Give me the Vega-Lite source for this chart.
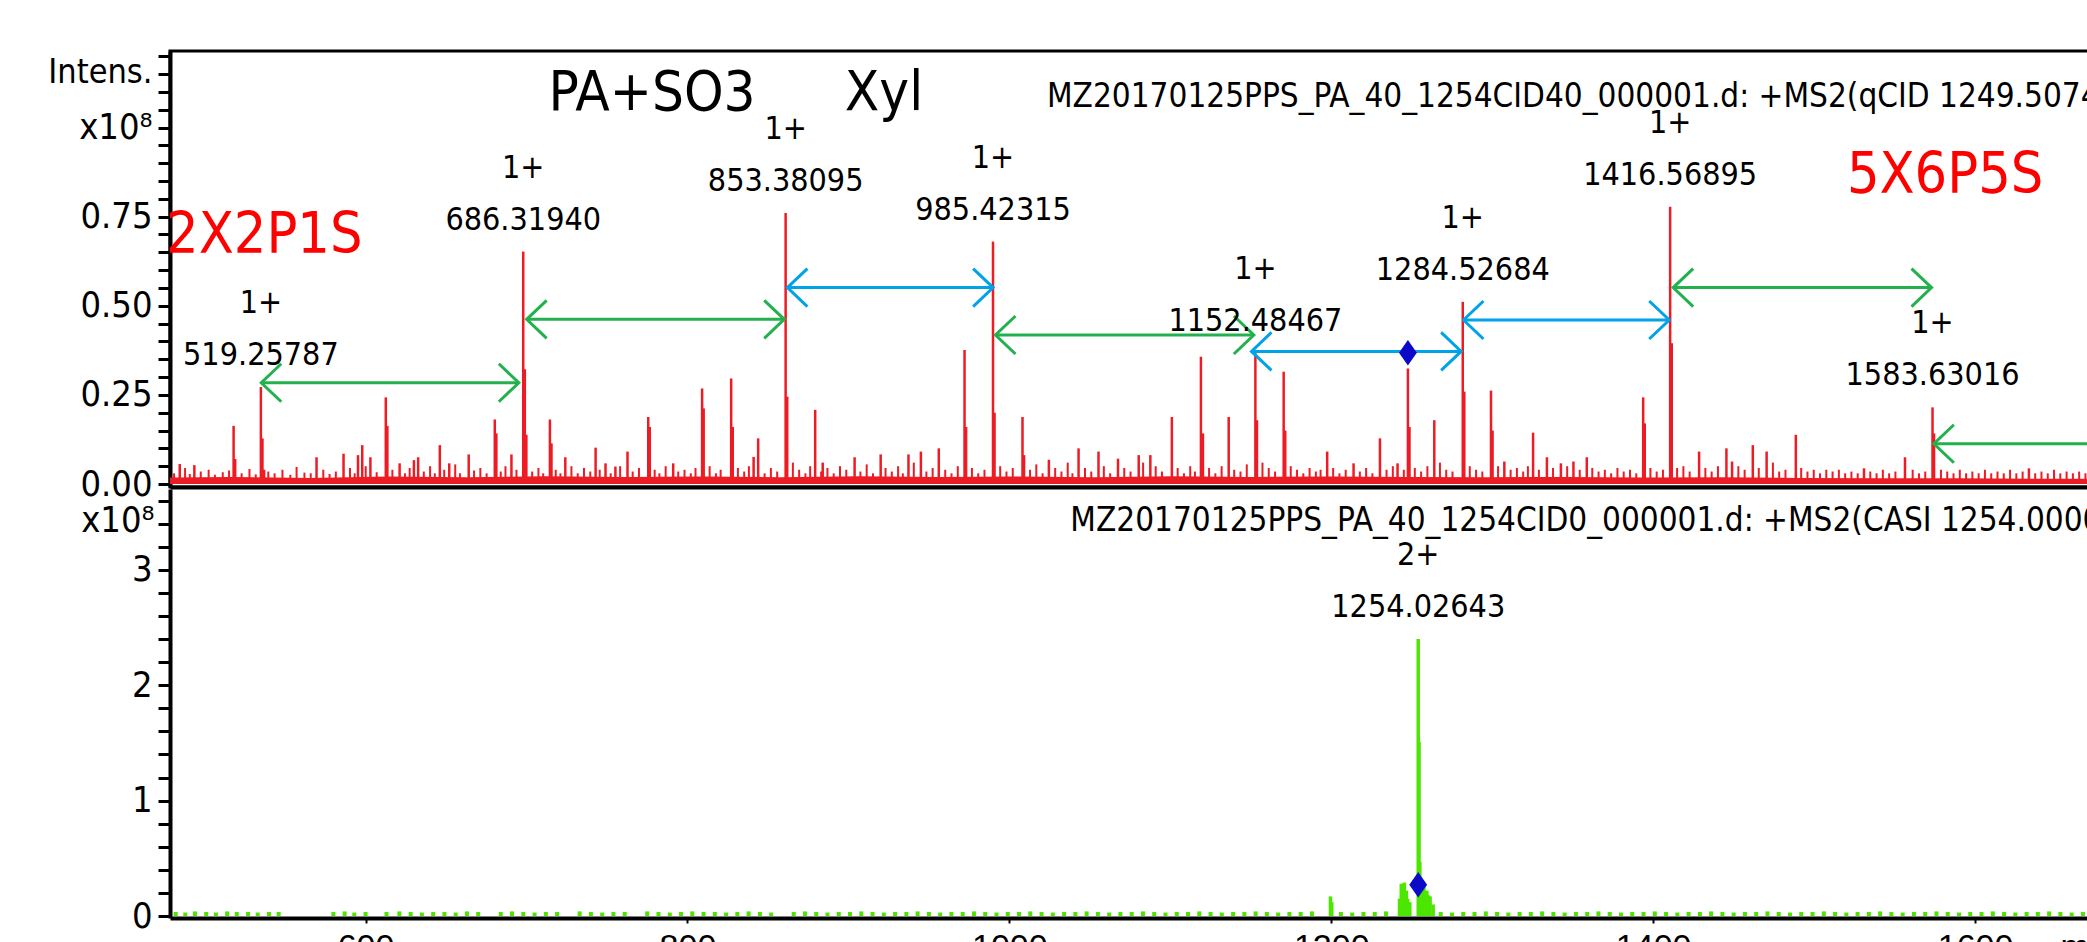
{
  "$schema": "https://vega.github.io/schema/vega-lite/v6.json",
  "autosize": {"type": "none"},
  "padding": {"left": 170, "top": 51, "right": 1917, "bottom": 891},
  "background": "white",
  "bounds": "flush",
  "spacing": 2,
  "resolve": {"scale": {"x": "independent"}},
  "config": {
    "view": {"stroke": null},
    "axis": {"grid": false, "domainColor": "#000", "tickColor": "#000", "labelColor": "#000", "titleColor": "#000",
      "labelFont": "DejaVu Sans Condensed, DejaVu Sans, sans-serif",
      "titleFont": "DejaVu Sans Condensed, DejaVu Sans, sans-serif",
      "titleFontWeight": "normal", "labelOverlap": false, "labelFlush": false, "labelBound": false},
    "text": {"font": "DejaVu Sans Condensed, DejaVu Sans, sans-serif"}
  },
  "datasets": {
    "up": [
      {"mz": 467.6, "i": 0.056}, {"mz": 476.9, "i": 0.053}, {"mz": 501.9, "i": 0.163}, {"mz": 502.9, "i": 0.07},
      {"mz": 519.26, "i": 0.272, "z": "1+", "lab": "519.25787"}, {"mz": 520.26, "i": 0.128}, {"mz": 521.3, "i": 0.04},
      {"mz": 554.7, "i": 0.075}, {"mz": 571.9, "i": 0.085}, {"mz": 581.1, "i": 0.081}, {"mz": 583.8, "i": 0.109},
      {"mz": 589.0, "i": 0.075}, {"mz": 598.8, "i": 0.243}, {"mz": 599.8, "i": 0.163}, {"mz": 607.6, "i": 0.058},
      {"mz": 616.7, "i": 0.067}, {"mz": 619.4, "i": 0.075}, {"mz": 633.2, "i": 0.109}, {"mz": 639.2, "i": 0.058},
      {"mz": 651.6, "i": 0.083}, {"mz": 668.2, "i": 0.181}, {"mz": 669.2, "i": 0.142}, {"mz": 678.8, "i": 0.083},
      {"mz": 686.32, "i": 0.652, "z": "1+", "lab": "686.31940"}, {"mz": 687.32, "i": 0.322}, {"mz": 688.3, "i": 0.138},
      {"mz": 703.3, "i": 0.181}, {"mz": 704.3, "i": 0.114}, {"mz": 713.1, "i": 0.075}, {"mz": 732.4, "i": 0.102},
      {"mz": 738.7, "i": 0.058}, {"mz": 745.0, "i": 0.049}, {"mz": 752.7, "i": 0.091}, {"mz": 765.9, "i": 0.188},
      {"mz": 766.9, "i": 0.16}, {"mz": 781.8, "i": 0.058}, {"mz": 800.2, "i": 0.268}, {"mz": 801.2, "i": 0.212},
      {"mz": 818.7, "i": 0.296}, {"mz": 819.7, "i": 0.16}, {"mz": 833.0, "i": 0.076}, {"mz": 835.9, "i": 0.128},
      {"mz": 853.38, "i": 0.76, "z": "1+", "lab": "853.38095"}, {"mz": 854.4, "i": 0.245}, {"mz": 872.2, "i": 0.208},
      {"mz": 877.0, "i": 0.06}, {"mz": 897.3, "i": 0.075}, {"mz": 913.9, "i": 0.083}, {"mz": 931.6, "i": 0.083},
      {"mz": 939.5, "i": 0.091}, {"mz": 950.9, "i": 0.1}, {"mz": 967.3, "i": 0.376}, {"mz": 968.3, "i": 0.16},
      {"mz": 985.42, "i": 0.68, "z": "1+", "lab": "985.42315"}, {"mz": 986.4, "i": 0.2}, {"mz": 1004.2, "i": 0.188},
      {"mz": 1005.2, "i": 0.081}, {"mz": 1021.0, "i": 0.068}, {"mz": 1039.9, "i": 0.1}, {"mz": 1052.6, "i": 0.091},
      {"mz": 1065.0, "i": 0.071}, {"mz": 1078.2, "i": 0.081}, {"mz": 1085.6, "i": 0.081}, {"mz": 1099.3, "i": 0.188},
      {"mz": 1117.8, "i": 0.357}, {"mz": 1119.1, "i": 0.142}, {"mz": 1135.5, "i": 0.188},
      {"mz": 1152.48, "i": 0.367, "z": "1+", "lab": "1152.48467"}, {"mz": 1153.5, "i": 0.179}, {"mz": 1170.5, "i": 0.315},
      {"mz": 1171.5, "i": 0.15}, {"mz": 1198.2, "i": 0.091}, {"mz": 1215.0, "i": 0.058}, {"mz": 1231.8, "i": 0.128},
      {"mz": 1243.0, "i": 0.058}, {"mz": 1249.6, "i": 0.324}, {"mz": 1250.6, "i": 0.16}, {"mz": 1266.4, "i": 0.179},
      {"mz": 1284.53, "i": 0.511, "z": "1+", "lab": "1284.52684"}, {"mz": 1285.5, "i": 0.259}, {"mz": 1302.5, "i": 0.262},
      {"mz": 1303.5, "i": 0.15}, {"mz": 1311.0, "i": 0.063}, {"mz": 1329.3, "i": 0.144}, {"mz": 1338.1, "i": 0.075},
      {"mz": 1347.0, "i": 0.058}, {"mz": 1355.0, "i": 0.063}, {"mz": 1363.5, "i": 0.075}, {"mz": 1399.4, "i": 0.243},
      {"mz": 1400.4, "i": 0.17}, {"mz": 1416.57, "i": 0.778, "z": "1+", "lab": "1416.56895"}, {"mz": 1417.6, "i": 0.395},
      {"mz": 1435.0, "i": 0.091}, {"mz": 1452.4, "i": 0.1}, {"mz": 1456.0, "i": 0.063}, {"mz": 1469.2, "i": 0.109},
      {"mz": 1478.0, "i": 0.091}, {"mz": 1496.6, "i": 0.138}, {"mz": 1540.0, "i": 0.044}, {"mz": 1566.1, "i": 0.075},
      {"mz": 1583.63, "i": 0.215, "z": "1+", "lab": "1583.63016"}, {"mz": 1584.6, "i": 0.142}, {"mz": 1645.0, "i": 0.044}
    ],
    "upNoise": [
      {"mz": 464, "i": 0.03}, {"mz": 471, "i": 0.045}, {"mz": 474, "i": 0.028}, {"mz": 481, "i": 0.035}, {"mz": 486, "i": 0.04},
      {"mz": 490, "i": 0.026}, {"mz": 495, "i": 0.033}, {"mz": 499, "i": 0.038}, {"mz": 507, "i": 0.03}, {"mz": 512, "i": 0.042},
      {"mz": 516, "i": 0.027}, {"mz": 524, "i": 0.035}, {"mz": 528, "i": 0.03}, {"mz": 533, "i": 0.04}, {"mz": 538, "i": 0.026},
      {"mz": 542, "i": 0.048}, {"mz": 547, "i": 0.032}, {"mz": 551, "i": 0.03}, {"mz": 559, "i": 0.04}, {"mz": 563, "i": 0.028},
      {"mz": 567, "i": 0.035}, {"mz": 576, "i": 0.045}, {"mz": 579, "i": 0.03}, {"mz": 586, "i": 0.05}, {"mz": 593, "i": 0.033},
      {"mz": 603, "i": 0.04}, {"mz": 611, "i": 0.03}, {"mz": 614, "i": 0.045}, {"mz": 623, "i": 0.035}, {"mz": 627, "i": 0.05},
      {"mz": 630, "i": 0.03}, {"mz": 636, "i": 0.04}, {"mz": 643, "i": 0.055}, {"mz": 646, "i": 0.03}, {"mz": 655, "i": 0.038},
      {"mz": 659, "i": 0.045}, {"mz": 663, "i": 0.03}, {"mz": 672, "i": 0.035}, {"mz": 675, "i": 0.05}, {"mz": 682, "i": 0.04},
      {"mz": 692, "i": 0.035}, {"mz": 696, "i": 0.045}, {"mz": 699, "i": 0.03}, {"mz": 707, "i": 0.04}, {"mz": 710, "i": 0.03},
      {"mz": 717, "i": 0.05}, {"mz": 721, "i": 0.03}, {"mz": 725, "i": 0.045}, {"mz": 729, "i": 0.035}, {"mz": 735, "i": 0.04},
      {"mz": 742, "i": 0.03}, {"mz": 748, "i": 0.05}, {"mz": 756, "i": 0.035}, {"mz": 760, "i": 0.045}, {"mz": 770, "i": 0.04},
      {"mz": 773, "i": 0.03}, {"mz": 777, "i": 0.05}, {"mz": 785, "i": 0.035}, {"mz": 789, "i": 0.04}, {"mz": 793, "i": 0.03},
      {"mz": 796, "i": 0.045}, {"mz": 805, "i": 0.05}, {"mz": 809, "i": 0.03}, {"mz": 812, "i": 0.04}, {"mz": 823, "i": 0.045},
      {"mz": 827, "i": 0.035}, {"mz": 830, "i": 0.05}, {"mz": 840, "i": 0.03}, {"mz": 844, "i": 0.045}, {"mz": 848, "i": 0.035},
      {"mz": 858, "i": 0.06}, {"mz": 862, "i": 0.04}, {"mz": 866, "i": 0.03}, {"mz": 869, "i": 0.05}, {"mz": 876, "i": 0.035},
      {"mz": 880, "i": 0.045}, {"mz": 884, "i": 0.03}, {"mz": 888, "i": 0.05}, {"mz": 892, "i": 0.04}, {"mz": 901, "i": 0.035},
      {"mz": 905, "i": 0.055}, {"mz": 909, "i": 0.03}, {"mz": 917, "i": 0.045}, {"mz": 921, "i": 0.035}, {"mz": 925, "i": 0.05},
      {"mz": 928, "i": 0.03}, {"mz": 935, "i": 0.06}, {"mz": 943, "i": 0.035}, {"mz": 947, "i": 0.045}, {"mz": 955, "i": 0.04},
      {"mz": 959, "i": 0.03}, {"mz": 963, "i": 0.05}, {"mz": 972, "i": 0.045}, {"mz": 976, "i": 0.03}, {"mz": 980, "i": 0.04},
      {"mz": 990, "i": 0.05}, {"mz": 994, "i": 0.035}, {"mz": 998, "i": 0.045}, {"mz": 1009, "i": 0.04}, {"mz": 1013, "i": 0.055},
      {"mz": 1017, "i": 0.03}, {"mz": 1025, "i": 0.045}, {"mz": 1029, "i": 0.035}, {"mz": 1033, "i": 0.06}, {"mz": 1036, "i": 0.03},
      {"mz": 1044, "i": 0.045}, {"mz": 1048, "i": 0.035}, {"mz": 1056, "i": 0.05}, {"mz": 1060, "i": 0.03}, {"mz": 1069, "i": 0.045},
      {"mz": 1073, "i": 0.035}, {"mz": 1081, "i": 0.06}, {"mz": 1089, "i": 0.05}, {"mz": 1093, "i": 0.035}, {"mz": 1103, "i": 0.045},
      {"mz": 1107, "i": 0.03}, {"mz": 1111, "i": 0.05}, {"mz": 1114, "i": 0.035}, {"mz": 1123, "i": 0.045}, {"mz": 1127, "i": 0.03},
      {"mz": 1131, "i": 0.05}, {"mz": 1139, "i": 0.04}, {"mz": 1143, "i": 0.035}, {"mz": 1147, "i": 0.055}, {"mz": 1157, "i": 0.06},
      {"mz": 1161, "i": 0.045}, {"mz": 1165, "i": 0.035}, {"mz": 1175, "i": 0.05}, {"mz": 1179, "i": 0.04}, {"mz": 1183, "i": 0.03},
      {"mz": 1187, "i": 0.045}, {"mz": 1191, "i": 0.035}, {"mz": 1194, "i": 0.04}, {"mz": 1202, "i": 0.045}, {"mz": 1206, "i": 0.03},
      {"mz": 1210, "i": 0.04}, {"mz": 1219, "i": 0.035}, {"mz": 1223, "i": 0.045}, {"mz": 1227, "i": 0.03}, {"mz": 1236, "i": 0.04},
      {"mz": 1240, "i": 0.05}, {"mz": 1247, "i": 0.04}, {"mz": 1254, "i": 0.045}, {"mz": 1258, "i": 0.035}, {"mz": 1262, "i": 0.05},
      {"mz": 1270, "i": 0.06}, {"mz": 1274, "i": 0.04}, {"mz": 1278, "i": 0.035}, {"mz": 1289, "i": 0.05}, {"mz": 1293, "i": 0.04},
      {"mz": 1297, "i": 0.035}, {"mz": 1307, "i": 0.05}, {"mz": 1315, "i": 0.04}, {"mz": 1319, "i": 0.045}, {"mz": 1323, "i": 0.035},
      {"mz": 1326, "i": 0.05}, {"mz": 1333, "i": 0.04}, {"mz": 1342, "i": 0.045}, {"mz": 1351, "i": 0.05}, {"mz": 1359, "i": 0.04},
      {"mz": 1367, "i": 0.045}, {"mz": 1371, "i": 0.035}, {"mz": 1375, "i": 0.04}, {"mz": 1379, "i": 0.03}, {"mz": 1383, "i": 0.045},
      {"mz": 1387, "i": 0.035}, {"mz": 1391, "i": 0.04}, {"mz": 1395, "i": 0.03}, {"mz": 1404, "i": 0.045}, {"mz": 1408, "i": 0.035},
      {"mz": 1412, "i": 0.04}, {"mz": 1421, "i": 0.045}, {"mz": 1425, "i": 0.05}, {"mz": 1429, "i": 0.035}, {"mz": 1439, "i": 0.045},
      {"mz": 1443, "i": 0.035}, {"mz": 1447, "i": 0.05}, {"mz": 1460, "i": 0.05}, {"mz": 1464, "i": 0.04}, {"mz": 1473, "i": 0.045},
      {"mz": 1482, "i": 0.06}, {"mz": 1486, "i": 0.035}, {"mz": 1490, "i": 0.04}, {"mz": 1500, "i": 0.045}, {"mz": 1504, "i": 0.035},
      {"mz": 1508, "i": 0.04}, {"mz": 1512, "i": 0.03}, {"mz": 1516, "i": 0.04}, {"mz": 1520, "i": 0.035}, {"mz": 1524, "i": 0.04},
      {"mz": 1528, "i": 0.03}, {"mz": 1532, "i": 0.035}, {"mz": 1536, "i": 0.03}, {"mz": 1544, "i": 0.035}, {"mz": 1548, "i": 0.03},
      {"mz": 1552, "i": 0.04}, {"mz": 1556, "i": 0.03}, {"mz": 1560, "i": 0.035}, {"mz": 1571, "i": 0.04}, {"mz": 1575, "i": 0.03},
      {"mz": 1579, "i": 0.035}, {"mz": 1589, "i": 0.04}, {"mz": 1593, "i": 0.035}, {"mz": 1597, "i": 0.03}, {"mz": 1601, "i": 0.04},
      {"mz": 1605, "i": 0.03}, {"mz": 1609, "i": 0.035}, {"mz": 1613, "i": 0.03}, {"mz": 1617, "i": 0.04}, {"mz": 1621, "i": 0.03},
      {"mz": 1625, "i": 0.035}, {"mz": 1629, "i": 0.03}, {"mz": 1633, "i": 0.04}, {"mz": 1637, "i": 0.03}, {"mz": 1641, "i": 0.035},
      {"mz": 1649, "i": 0.03}, {"mz": 1653, "i": 0.035}, {"mz": 1657, "i": 0.03}, {"mz": 1661, "i": 0.04}, {"mz": 1665, "i": 0.03},
      {"mz": 1669, "i": 0.035}, {"mz": 1673, "i": 0.03}, {"mz": 1677, "i": 0.035}, {"mz": 1681, "i": 0.03}
    ],
    "upFloor": [
      {"mz": 461.4, "i": 0.018}, {"mz": 500, "i": 0.02}, {"mz": 550, "i": 0.017}, {"mz": 600, "i": 0.021}, {"mz": 650, "i": 0.019},
      {"mz": 700, "i": 0.022}, {"mz": 750, "i": 0.02}, {"mz": 800, "i": 0.021}, {"mz": 850, "i": 0.019}, {"mz": 900, "i": 0.022},
      {"mz": 950, "i": 0.02}, {"mz": 1000, "i": 0.021}, {"mz": 1050, "i": 0.019}, {"mz": 1100, "i": 0.022}, {"mz": 1150, "i": 0.02},
      {"mz": 1200, "i": 0.021}, {"mz": 1250, "i": 0.02}, {"mz": 1300, "i": 0.019}, {"mz": 1350, "i": 0.02}, {"mz": 1400, "i": 0.018},
      {"mz": 1450, "i": 0.019}, {"mz": 1500, "i": 0.017}, {"mz": 1550, "i": 0.016}, {"mz": 1600, "i": 0.016}, {"mz": 1650, "i": 0.015},
      {"mz": 1683.9, "i": 0.015}
    ],
    "arrows": [
      {"from": 519.5, "to": 683.5, "i": 0.284, "type": "PA+SO3"},
      {"from": 688.5, "to": 852.5, "i": 0.462, "type": "PA+SO3"},
      {"from": 854.5, "to": 985.5, "i": 0.551, "type": "Xyl"},
      {"from": 987.0, "to": 1151.5, "i": 0.418, "type": "PA+SO3"},
      {"from": 1150.0, "to": 1283.5, "i": 0.372, "type": "Xyl"},
      {"from": 1285.0, "to": 1416.0, "i": 0.46, "type": "Xyl"},
      {"from": 1418.5, "to": 1583.0, "i": 0.551, "type": "PA+SO3"},
      {"from": 1584.5, "to": 1751.0, "i": 0.113, "type": "PA+SO3"}
    ],
    "upPrec": [{"mz": 1249.6, "i": 0.368}],
    "upText": [
      {"mz": 768.3, "i": 1.049, "text": "PA+SO3", "kind": "big"},
      {"mz": 916.0, "i": 1.049, "text": "Xyl", "kind": "big"},
      {"mz": 1019.8, "i": 1.058, "text": "MZ20170125PPS_PA_40_1254CID40_000001.d: +MS2(qCID 1249.50743, 40.0eV)", "kind": "file"},
      {"mz": 458.9, "i": 0.648, "text": "2X2P1S", "kind": "comp"},
      {"mz": 1529.1, "i": 0.816, "text": "5X6P5S", "kind": "comp"}
    ],
    "lo": [
      {"mz": 1199.5, "i": 0.17}, {"mz": 1200.3, "i": 0.12},
      {"mz": 1242.4, "i": 0.15}, {"mz": 1243.5, "i": 0.28}, {"mz": 1244.5, "i": 0.26}, {"mz": 1245.4, "i": 0.29},
      {"mz": 1246.7, "i": 0.22}, {"mz": 1247.5, "i": 0.15}, {"mz": 1248.8, "i": 0.12},
      {"mz": 1254.03, "i": 2.40, "z": "2+", "lab": "1254.02643"}, {"mz": 1254.53, "i": 1.51}, {"mz": 1255.03, "i": 0.47},
      {"mz": 1255.6, "i": 0.3}, {"mz": 1256.3, "i": 0.24}, {"mz": 1257.6, "i": 0.28}, {"mz": 1258.5, "i": 0.2},
      {"mz": 1259.4, "i": 0.22}, {"mz": 1260.4, "i": 0.18}, {"mz": 1261.4, "i": 0.17}, {"mz": 1263.3, "i": 0.1}
    ],
    "loNoise": [
      {"mz": 482, "i": 0.035}, {"mz": 488, "i": 0.03}, {"mz": 494, "i": 0.04}, {"mz": 501, "i": 0.035}, {"mz": 507, "i": 0.03},
      {"mz": 514, "i": 0.04}, {"mz": 520, "i": 0.035}, {"mz": 527, "i": 0.035}, {"mz": 533, "i": 0.03}, {"mz": 540, "i": 0.035},
      {"mz": 546, "i": 0.035}, {"mz": 580, "i": 0.035}, {"mz": 587, "i": 0.04}, {"mz": 593, "i": 0.03}, {"mz": 600, "i": 0.035},
      {"mz": 613, "i": 0.035}, {"mz": 621, "i": 0.04}, {"mz": 628, "i": 0.035}, {"mz": 635, "i": 0.03}, {"mz": 642, "i": 0.035},
      {"mz": 649, "i": 0.035}, {"mz": 656, "i": 0.03}, {"mz": 663, "i": 0.04}, {"mz": 670, "i": 0.035}, {"mz": 684, "i": 0.035},
      {"mz": 691, "i": 0.04}, {"mz": 698, "i": 0.035}, {"mz": 705, "i": 0.03}, {"mz": 712, "i": 0.035}, {"mz": 719, "i": 0.035},
      {"mz": 733, "i": 0.04}, {"mz": 740, "i": 0.035}, {"mz": 747, "i": 0.03}, {"mz": 754, "i": 0.035}, {"mz": 761, "i": 0.035},
      {"mz": 775, "i": 0.04}, {"mz": 782, "i": 0.035}, {"mz": 789, "i": 0.03}, {"mz": 796, "i": 0.035}, {"mz": 803, "i": 0.04},
      {"mz": 810, "i": 0.035}, {"mz": 817, "i": 0.035}, {"mz": 824, "i": 0.03}, {"mz": 831, "i": 0.035}, {"mz": 838, "i": 0.04},
      {"mz": 845, "i": 0.035}, {"mz": 852, "i": 0.03}, {"mz": 866, "i": 0.035}, {"mz": 873, "i": 0.04}, {"mz": 880, "i": 0.035},
      {"mz": 887, "i": 0.03}, {"mz": 894, "i": 0.035}, {"mz": 901, "i": 0.035}, {"mz": 908, "i": 0.04}, {"mz": 915, "i": 0.035},
      {"mz": 922, "i": 0.03}, {"mz": 929, "i": 0.035}, {"mz": 936, "i": 0.035}, {"mz": 943, "i": 0.04}, {"mz": 950, "i": 0.035},
      {"mz": 957, "i": 0.03}, {"mz": 964, "i": 0.035}, {"mz": 971, "i": 0.035}, {"mz": 978, "i": 0.04}, {"mz": 985, "i": 0.035},
      {"mz": 992, "i": 0.03}, {"mz": 999, "i": 0.035}, {"mz": 1006, "i": 0.035}, {"mz": 1013, "i": 0.04}, {"mz": 1020, "i": 0.035},
      {"mz": 1027, "i": 0.03}, {"mz": 1034, "i": 0.035}, {"mz": 1041, "i": 0.035}, {"mz": 1048, "i": 0.04}, {"mz": 1055, "i": 0.035},
      {"mz": 1062, "i": 0.03}, {"mz": 1069, "i": 0.035}, {"mz": 1076, "i": 0.035}, {"mz": 1083, "i": 0.04}, {"mz": 1090, "i": 0.035},
      {"mz": 1097, "i": 0.03}, {"mz": 1104, "i": 0.035}, {"mz": 1111, "i": 0.035}, {"mz": 1118, "i": 0.04}, {"mz": 1125, "i": 0.035},
      {"mz": 1132, "i": 0.03}, {"mz": 1139, "i": 0.035}, {"mz": 1146, "i": 0.035}, {"mz": 1153, "i": 0.04}, {"mz": 1160, "i": 0.035},
      {"mz": 1167, "i": 0.03}, {"mz": 1174, "i": 0.035}, {"mz": 1181, "i": 0.035}, {"mz": 1188, "i": 0.04}, {"mz": 1206, "i": 0.035},
      {"mz": 1213, "i": 0.03}, {"mz": 1220, "i": 0.035}, {"mz": 1227, "i": 0.035}, {"mz": 1234, "i": 0.04}, {"mz": 1268, "i": 0.035},
      {"mz": 1275, "i": 0.03}, {"mz": 1282, "i": 0.035}, {"mz": 1289, "i": 0.035}, {"mz": 1296, "i": 0.04}, {"mz": 1303, "i": 0.035},
      {"mz": 1310, "i": 0.03}, {"mz": 1317, "i": 0.035}, {"mz": 1324, "i": 0.035}, {"mz": 1331, "i": 0.04}, {"mz": 1338, "i": 0.035},
      {"mz": 1345, "i": 0.03}, {"mz": 1352, "i": 0.035}, {"mz": 1359, "i": 0.035}, {"mz": 1366, "i": 0.04}, {"mz": 1373, "i": 0.035},
      {"mz": 1380, "i": 0.03}, {"mz": 1387, "i": 0.035}, {"mz": 1394, "i": 0.035}, {"mz": 1401, "i": 0.04}, {"mz": 1408, "i": 0.035},
      {"mz": 1415, "i": 0.03}, {"mz": 1422, "i": 0.035}, {"mz": 1429, "i": 0.035}, {"mz": 1436, "i": 0.04}, {"mz": 1443, "i": 0.035},
      {"mz": 1450, "i": 0.03}, {"mz": 1457, "i": 0.035}, {"mz": 1464, "i": 0.035}, {"mz": 1471, "i": 0.04}, {"mz": 1478, "i": 0.035},
      {"mz": 1485, "i": 0.03}, {"mz": 1492, "i": 0.035}, {"mz": 1499, "i": 0.035}, {"mz": 1506, "i": 0.04}, {"mz": 1513, "i": 0.035},
      {"mz": 1520, "i": 0.03}, {"mz": 1527, "i": 0.035}, {"mz": 1534, "i": 0.035}, {"mz": 1541, "i": 0.04}, {"mz": 1548, "i": 0.035},
      {"mz": 1555, "i": 0.03}, {"mz": 1562, "i": 0.035}, {"mz": 1569, "i": 0.035}, {"mz": 1576, "i": 0.04}, {"mz": 1583, "i": 0.035},
      {"mz": 1590, "i": 0.03}, {"mz": 1597, "i": 0.035}, {"mz": 1604, "i": 0.035}, {"mz": 1611, "i": 0.04}, {"mz": 1618, "i": 0.035},
      {"mz": 1625, "i": 0.03}, {"mz": 1632, "i": 0.035}, {"mz": 1639, "i": 0.035}, {"mz": 1646, "i": 0.04}, {"mz": 1653, "i": 0.035},
      {"mz": 1660, "i": 0.03}, {"mz": 1667, "i": 0.035}
    ],
    "loPrec": [{"mz": 1254.0, "i": 0.27}],
    "loText": [
      {"mz": 1037.9, "i": 3.336, "text": "MZ20170125PPS_PA_40_1254CID0_000001.d: +MS2(CASI 1254.00000, 0.0eV)"}
    ]
  },
  "vconcat": [
    {
      "width": 1920,
      "height": 436,
      "view": {"stroke": "#000", "strokeWidth": 3},
      "encoding": {
        "x": {"field": "mz", "type": "quantitative",
          "scale": {"domain": [461.4, 1683.9], "nice": false, "zero": false},
          "axis": {"labels": false, "ticks": false, "title": null, "domainWidth": 4}},
        "y": {"field": "i", "type": "quantitative",
          "scale": {"domain": [-0.0084, 1.2146], "nice": false, "zero": false},
          "axis": {
            "values": [0, 0.05, 0.1, 0.15, 0.2, 0.25, 0.3, 0.35, 0.4, 0.45, 0.5, 0.55, 0.6, 0.65, 0.7, 0.75, 0.8, 0.85, 0.9, 0.95, 1, 1.05, 1.1, 1.15, 1.2],
            "labelExpr": "datum.value == 1 ? 'x10⁸' : (abs(datum.value*4 - round(datum.value*4)) < 0.000001 ? format(datum.value, '.2f') : '')",
            "labelFontSize": 36, "labelPadding": 6, "labelAlign": "right",
            "tickSize": 12,
            "tickWidth": 3, "domainWidth": 4,
            "title": "Intens.", "titleAngle": 0, "titleAlign": "right", "titleBaseline": "middle",
            "titleX": -18, "titleY": 21, "titleFontSize": 34
          }}
      },
      "layer": [
        {"data": {"name": "upFloor"}, "mark": {"type": "area", "color": "#ED1C24", "interpolate": "linear"}},
        {"data": {"name": "upNoise"}, "mark": {"type": "rule", "color": "#ED1C24", "strokeWidth": 2},
          "encoding": {"y2": {"datum": 0}}},
        {"data": {"name": "up"}, "mark": {"type": "rule", "color": "#ED1C24", "strokeWidth": 2.5},
          "encoding": {"y2": {"datum": 0}}},
        {"data": {"name": "arrows"}, "mark": {"type": "rule", "strokeWidth": 3},
          "encoding": {"x": {"field": "from", "type": "quantitative"}, "x2": {"field": "to"},
            "color": {"field": "type", "type": "nominal", "scale": {"domain": ["PA+SO3", "Xyl"], "range": ["#22B14C", "#00A2E8"]}, "legend": null}}},
        {"data": {"name": "arrows"}, "mark": {"type": "point", "shape": "M1,-0.95L0,0L1,0.95", "filled": false, "strokeWidth": 3, "size": 1600, "opacity": 1},
          "encoding": {"x": {"field": "from", "type": "quantitative"},
            "color": {"field": "type", "type": "nominal", "scale": {"domain": ["PA+SO3", "Xyl"], "range": ["#22B14C", "#00A2E8"]}, "legend": null}}},
        {"data": {"name": "arrows"}, "mark": {"type": "point", "shape": "M-1,-0.95L0,0L-1,0.95", "filled": false, "strokeWidth": 3, "size": 1600, "opacity": 1},
          "encoding": {"x": {"field": "to", "type": "quantitative"},
            "color": {"field": "type", "type": "nominal", "scale": {"domain": ["PA+SO3", "Xyl"], "range": ["#22B14C", "#00A2E8"]}, "legend": null}}},
        {"data": {"name": "upPrec"}, "mark": {"type": "point", "shape": "M0,-1L0.7,0L0,1L-0.7,0Z", "filled": true, "color": "#0A0AC8", "size": 650, "opacity": 1}},
        {"data": {"name": "up"}, "transform": [{"filter": "isValid(datum.lab)"}],
          "mark": {"type": "text", "fontSize": 32, "color": "#000", "dy": -32, "baseline": "middle", "align": "center"},
          "encoding": {"text": {"field": "lab"}}},
        {"data": {"name": "up"}, "transform": [{"filter": "isValid(datum.lab)"}],
          "mark": {"type": "text", "fontSize": 32, "color": "#000", "dy": -84, "baseline": "middle", "align": "center"},
          "encoding": {"text": {"field": "z"}}},
        {"data": {"name": "upText"}, "transform": [{"filter": "datum.kind == 'big'"}],
          "mark": {"type": "text", "fontSize": 56, "color": "#000", "baseline": "alphabetic", "align": "center"},
          "encoding": {"text": {"field": "text"}}},
        {"data": {"name": "upText"}, "transform": [{"filter": "datum.kind == 'file'"}],
          "mark": {"type": "text", "fontSize": 33, "color": "#000", "baseline": "alphabetic", "align": "left"},
          "encoding": {"text": {"field": "text"}}},
        {"data": {"name": "upText"}, "transform": [{"filter": "datum.kind == 'comp'"}],
          "mark": {"type": "text", "fontSize": 57, "color": "#FF0000", "baseline": "alphabetic", "align": "left"},
          "encoding": {"text": {"field": "text"}}}
      ]
    },
    {
      "width": 1920,
      "height": 429,
      "encoding": {
        "x": {"field": "mz", "type": "quantitative",
          "scale": {"domain": [478.5, 1671.4], "nice": false, "zero": false},
          "axis": {"values": [600, 800, 1000, 1200, 1400, 1600], "format": "d", "labelFont": "Liberation Sans, Arial, sans-serif", "labelFontSize": 34,
            "labelBaseline": "top", "labelPadding": 7, "tickSize": 5, "tickWidth": 2, "domainWidth": 4,
            "title": "m/z", "titleFont": "Liberation Sans, Arial, sans-serif", "titleFontSize": 34, "titleAlign": "left", "titleBaseline": "top",
            "titleX": 1890, "titleY": 12, "titleAnchor": "start"}},
        "y": {"field": "i", "type": "quantitative",
          "scale": {"domain": [-0.0173, 3.7002], "nice": false, "zero": false},
          "axis": {
            "values": [0, 0.2, 0.4, 0.6, 0.8, 1, 1.2, 1.4, 1.6, 1.8, 2, 2.2, 2.4, 2.6, 2.8, 3, 3.2, 3.4, 3.6],
            "labelExpr": "abs(datum.value - round(datum.value)) < 0.000001 ? format(datum.value, 'd') : ''",
            "labelFontSize": 36, "labelPadding": 6, "labelAlign": "right",
            "tickSize": 12,
            "tickWidth": 3, "domainWidth": 4,
            "title": "x10⁸", "titleAngle": 0, "titleAlign": "right", "titleBaseline": "middle",
            "titleX": -16, "titleY": 31, "titleFontSize": 36
          }}
      },
      "layer": [
        {"data": {"name": "loNoise"}, "mark": {"type": "rule", "color": "#4CE600", "strokeWidth": 4},
          "encoding": {"y2": {"datum": 0}}},
        {"data": {"name": "lo"}, "mark": {"type": "rule", "color": "#4CE600", "strokeWidth": 3.5},
          "encoding": {"y2": {"datum": 0}}},
        {"data": {"name": "loPrec"}, "mark": {"type": "point", "shape": "M0,-1L0.7,0L0,1L-0.7,0Z", "filled": true, "color": "#0A0AC8", "size": 650, "opacity": 1}},
        {"data": {"name": "lo"}, "transform": [{"filter": "isValid(datum.lab)"}],
          "mark": {"type": "text", "fontSize": 32, "color": "#000", "dy": -32, "baseline": "middle", "align": "center"},
          "encoding": {"text": {"field": "lab"}}},
        {"data": {"name": "lo"}, "transform": [{"filter": "isValid(datum.lab)"}],
          "mark": {"type": "text", "fontSize": 32, "color": "#000", "dy": -84, "baseline": "middle", "align": "center"},
          "encoding": {"text": {"field": "z"}}},
        {"data": {"name": "loText"},
          "mark": {"type": "text", "fontSize": 33, "color": "#000", "baseline": "alphabetic", "align": "left"},
          "encoding": {"text": {"field": "text"}}}
      ]
    }
  ]
}
